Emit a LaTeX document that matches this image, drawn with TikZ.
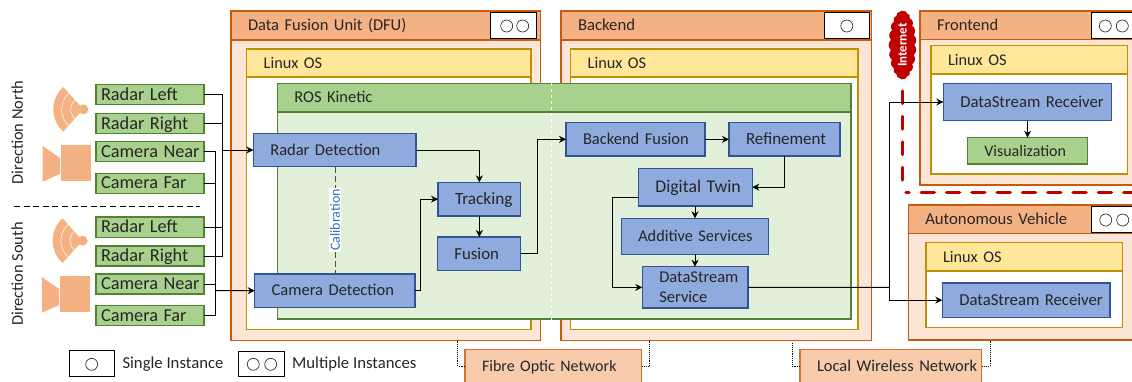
\documentclass[tikz,border=0pt]{standalone}
\usepackage{fontspec}
\setmainfont{Carlito}
\usetikzlibrary{arrows.meta, shapes.symbols}

\definecolor{headorange}{HTML}{F4B183}
\definecolor{bodyorange}{HTML}{FBE5D6}
\definecolor{lineorange}{HTML}{C55A11}
\definecolor{netorange}{HTML}{F8CBAD}
\definecolor{headyellow}{HTML}{FFE699}
\definecolor{lineyellow}{HTML}{BF9000}
\definecolor{headgreen}{HTML}{A9D18E}
\definecolor{bodygreen}{HTML}{E2F0D9}
\definecolor{linegreen}{HTML}{548235}
\definecolor{blockblue}{HTML}{8FAADC}
\definecolor{lineblue}{HTML}{2F5597}
\definecolor{darkred}{HTML}{C00000}
\definecolor{calibblue}{HTML}{2E75B6}

\tikzset{
    boxbase/.style={rectangle, draw, line width=1.3pt, outer sep=0pt, inner sep=0pt,
        align=left, font=\fontsize{16.5}{20}\selectfont, text=black!85},
    orangebody/.style={boxbase, draw=lineorange, fill=bodyorange},
    orangehead/.style={boxbase, draw=lineorange, fill=headorange},
    netbox/.style={boxbase, draw=lineorange!85, fill=netorange},
    oshead/.style={boxbase, draw=lineyellow, fill=headyellow},
    osbody/.style={boxbase, draw=lineyellow, fill=white},
    roshead/.style={boxbase, draw=linegreen, fill=headgreen},
    rosbody/.style={boxbase, draw=linegreen, fill=bodygreen},
    blockbox/.style={boxbase, draw=lineblue, fill=blockblue},
    greenbox/.style={boxbase, draw=linegreen, fill=headgreen},
    instbox/.style={boxbase, draw=black, line width=0.9pt, fill=white},
    wire/.style={black, line width=1pt},
    arrowwire/.style={wire, -{Stealth[length=7pt,width=7pt]}},
    netlink/.style={black, line width=0.9pt, densely dotted},
    instcircle/.style={black!80, line width=0.7pt},
    icon/.style={fill=headorange, draw=none},
    sidelabel/.style={rotate=90, font=\fontsize{16.4}{20}\selectfont, text=black!85},
    legendlabel/.style={anchor=west, inner sep=0pt, font=\fontsize{16.7}{20}\selectfont, text=black!85}
}

\def\boxpad{17}
\newcommand{\fs}[1]{\fontsize{#1}{20}\selectfont}
\newcommand{\boxstrut}{\hspace*{\boxpad pt}\rule[-4.7pt]{0pt}{20pt}}
% style, name, x1, y1, x2, y2, text
\newcommand{\areabox}[7]{%
    \pgfmathsetmacro\boxw{#5-#3}
    \pgfmathsetmacro\boxh{#6-#4}
    \node[#1, anchor=north west, minimum width=\boxw pt, minimum height=\boxh pt,
        text width=\boxw pt] (#2) at (#3,#4) {\boxstrut #7};
}

\begin{document}
\begin{tikzpicture}[x=1pt, y=-1pt]
    \useasboundingbox (0,0) rectangle (1132,381);
    \clip (0,0) rectangle (1132,381);

    % --- sensors ---
    \def\boxpad{5}
    \foreach \nm/\ya/\yb/\txt in {radlN/84.7/104.7/Radar Left, radrN/113.7/133.3/Radar Right,
        camnN/141.7/161.7/Camera Near, camfN/173.3/193.3/Camera Far,
        radlS/217/237.3/Radar Left, radrS/246/266/Radar Right,
        camnS/274/294/Camera Near, camfS/305.7/325.7/Camera Far} {
        \areabox{greenbox}{\nm}{96}{\ya}{204}{\yb}{\fs{18.3}\txt}
    }
    \def\boxpad{17}

    \node[sidelabel] (dirnorth) at (17.3,132.5) {Direction North};
    \node[sidelabel] (dirsouth) at (17.3,274) {Direction South};
    \draw[black, line width=0.8pt, dash pattern=on 6pt off 3.6pt] (14,206) -- (200,206);

    % radar and camera icons
    \foreach \ox/\oy in {0/0, -0.7/131.4} {
        \begin{scope}[shift={(\ox,\oy)}]
            \coordinate (apex) at (83.3,109.3);
            \fill[icon] (apex) -- ++(132:30pt) arc[start angle=132, end angle=228, radius=30pt] -- cycle;
            \draw[white, line width=0.5pt] (apex) ++(132:12.5pt) arc[start angle=132, end angle=228, radius=12.5pt];
            \draw[white, line width=0.5pt] (apex) ++(132:21.7pt) arc[start angle=132, end angle=228, radius=21.7pt];
            \fill[icon] (apex) circle[radius=5pt];
        \end{scope}
    }
    \foreach \ox/\oy in {0/0, -0.8/131} {
        \begin{scope}[shift={(\ox,\oy)}]
            \fill[icon] (60.7,145) rectangle (91,181);
            \fill[icon] (42.7,146) -- (60,158) -- (60,174) -- (42.7,181.7) -- cycle;
        \end{scope}
    }

    % --- data fusion unit ---
    \areabox{orangebody}{dfubody}{231}{11}{540.5}{340.5}{}
    \areabox{orangehead}{dfuhead}{231}{11}{540.5}{40}{Data Fusion Unit (DFU)}
    \areabox{instbox}{dfuinst}{490.7}{12.7}{536}{38.3}{}
    \areabox{osbody}{dfuosbody}{246.7}{49}{531}{329.3}{}
    \areabox{oshead}{dfuoshead}{246.7}{49}{531}{77}{\fs{16.3}Linux OS}

    % --- backend ---
    \areabox{orangebody}{backbody}{561}{11}{871.7}{340.5}{}
    \areabox{orangehead}{backhead}{561}{11}{871.7}{40}{\fs{16.7}Backend}
    \areabox{instbox}{backinst}{824.3}{12.7}{869.3}{38.3}{}
    \areabox{osbody}{backosbody}{570.7}{49}{858}{329.3}{}
    \areabox{oshead}{backoshead}{570.7}{49}{858}{77}{\fs{16.3}Linux OS}

    % --- ros ---
    \areabox{rosbody}{rosarea}{277.3}{83.3}{851}{319}{}
    \areabox{roshead}{roshd}{277.3}{83.3}{851}{112}{ROS Kinetic}
    \draw[white, line width=1pt, dashed] (551,83) -- (551,320);

    \areabox{blockbox}{radardet}{253.3}{133.3}{416}{166.7}{Radar Detection}
    \areabox{blockbox}{camdet}{254.7}{274}{415}{307.3}{Camera Detection}
    \areabox{blockbox}{tracking}{438}{182.3}{520.7}{216}{\fs{17.2}Tracking}
    \areabox{blockbox}{fusion}{437.3}{237}{520.7}{270.7}{\fs{16.8}Fusion}
    \areabox{blockbox}{backfusion}{566}{122.7}{705}{156}{Backend Fusion}
    \areabox{blockbox}{refine}{729}{122.7}{840}{156}{\fs{17}Refinement}
    \areabox{blockbox}{twin}{638.3}{168.3}{752.3}{206}{\fs{17.8}Digital Twin}
    \areabox{blockbox}{addserv}{621.3}{218.3}{768.7}{254.3}{\fs{16.3}Additive Services}
    \areabox{blockbox}{dsserv}{642.3}{266.7}{748}{308}{DataStream\\\boxstrut Service}

    % calibration link
    \node[rotate=90, fill=white, inner xsep=1pt, inner ysep=1.5pt, text=calibblue,
        font=\fontsize{14}{16}\selectfont] (calib) at (335,220) {Calibration};
    \draw[black!70, line width=0.8pt, dash pattern=on 6pt off 3pt] (radardet.south -| calib.center) -- (calib.east);
    \draw[black!70, line width=0.8pt, dash pattern=on 6pt off 3pt] (calib.west) -- (camdet.north -| calib.center);

    % --- frontend ---
    \areabox{orangebody}{frontbody}{920}{11}{1140}{185}{}
    \areabox{orangehead}{fronthead}{920}{11}{1140}{39.3}{Frontend}
    \areabox{instbox}{frontinst}{1091}{12.7}{1140}{38.3}{}
    \areabox{osbody}{frontosbody}{931}{45.7}{1127.3}{174}{}
    \areabox{oshead}{frontoshead}{931}{45.7}{1127.3}{74}{\fs{16.3}Linux OS}
    \areabox{blockbox}{recvfront}{943.3}{83.3}{1111.7}{120.7}{\fs{16.7}DataStream Receiver}
    \areabox{greenbox}{visual}{967.3}{137.7}{1087.7}{164}{\fs{16}Visualization}

    % --- autonomous vehicle ---
    \areabox{orangebody}{carbody}{908.3}{205}{1140}{340}{}
    \areabox{orangehead}{carhead}{908.3}{205}{1140}{233.7}{\fs{16.7}Autonomous Vehicle}
    \areabox{instbox}{carinst}{1091.7}{206.7}{1140}{232.3}{}
    \areabox{osbody}{carosbody}{926}{242.7}{1122.3}{327.7}{}
    \areabox{oshead}{caroshead}{926}{242.7}{1122.3}{271}{\fs{16.3}Linux OS}
    \areabox{blockbox}{recvcar}{942.3}{283}{1110}{317.3}{\fs{16.7}DataStream Receiver}

    % --- networks ---
    \areabox{netbox}{fibre}{465}{349.3}{641.7}{383}{\fs{16}Fibre Optic Network}
    \areabox{netbox}{wireless}{800}{349.3}{981.7}{383}{Local Wireless Network}
    \coordinate (fibreL) at (457.7,340.5);
    \coordinate (fibreR) at (649.7,340.5);
    \coordinate (wirelessL) at (792,343);
    \coordinate (wirelessR) at (990,340.5);
    \draw[netlink] (fibreL) |- (fibre.west);
    \draw[netlink] (fibreR) |- (fibre.east);
    \draw[netlink] (wirelessL) |- (wireless.west);
    \draw[netlink] (wirelessR) |- (wireless.east);

    % --- internet ---
    \draw[darkred, line width=3.5pt, line cap=round, dash pattern=on 12.5pt off 13pt] (902.3,91) -- (902.3,181.7);
    \draw[darkred, line width=3.5pt, line cap=round, dash pattern=on 13pt off 12.3pt, dash phase=10pt] (906,192.7) -- (1140,192.7);
    \node[cloud, cloud puffs=21, cloud puff arc=100, aspect=2.6, fill=darkred, text=white, rotate=90, inner sep=0pt,
        minimum width=69pt, minimum height=25pt, font=\fontsize{13}{14}\selectfont\bfseries] (internet) at (902.5,45) {Internet};

    % --- sensor wiring ---
    \coordinate (radarbus) at (222.7,150);
    \coordinate (cambus) at (215,290.6);
    \draw[wire] (radlN.east) -| (radarbus);
    \draw[wire] (radrN.east) -- (radrN.east -| radarbus);
    \draw[wire] (radlS.east) -- (radlS.east -| radarbus);
    \draw[wire] (radrS.east) -| (radarbus);
    \draw[wire] (camnN.east) -| (cambus);
    \draw[wire] (camfN.east) -- (camfN.east -| cambus);
    \draw[wire] (camnS.east) -- (camnS.east -| cambus);
    \draw[wire] (camfS.east) -| (cambus);
    \draw[arrowwire] (radarbus) -- (radardet.west);
    \draw[arrowwire] (cambus) -- (camdet.west);

    % --- block wiring ---
    \draw[arrowwire] (radardet.east) -| (tracking.north);
    \draw[arrowwire] (camdet.east) -- ++(5,0) |- (tracking.west);
    \draw[arrowwire] (tracking.south) -- (tracking.south |- fusion.north);
    \draw[arrowwire] (fusion.east) -- ++(16.6,0) |- (backfusion.west);
    \draw[arrowwire] (backfusion.east) -- (refine.west);
    \draw[arrowwire] (refine.south) |- (twin.east);
    \draw[arrowwire] (twin.south -| addserv.north) -- (addserv.north);
    \draw[arrowwire] (addserv.south) -- (addserv.south |- dsserv.north);
    \draw[arrowwire] ([yshift=-10pt]twin.west) -- ++(-26.3,0) |- (dsserv.west);
    \coordinate (netsplit) at (889,287.3);
    \draw[wire] (dsserv.east) -- (netsplit);
    \draw[arrowwire] (netsplit) |- (recvfront.west);
    \draw[arrowwire] (netsplit) |- (recvcar.west);
    \draw[arrowwire] (recvfront.south -| visual.north) -- (visual.north);

    % --- instance markers ---
    \foreach \cx in {506.7, 522.7} \draw[instcircle] (\cx,26) circle[radius=6pt];
    \draw[instcircle] (846.8,26) circle[radius=6pt];
    \foreach \cx in {1105.3, 1122.3} \draw[instcircle] (\cx,26) circle[radius=6pt];
    \foreach \cx in {1105.7, 1122.7} \draw[instcircle] (\cx,220) circle[radius=6pt];

    % --- legend ---
    \areabox{instbox}{singlebox}{69.3}{350.7}{114.3}{376}{}
    \areabox{instbox}{multibox}{238.7}{351}{284}{376}{}
    \draw[instcircle] (91.7,364.3) circle[radius=6pt];
    \foreach \cx in {253.3, 270.7} \draw[instcircle] (\cx,364.3) circle[radius=6pt];
    \node[legendlabel] (singlelabel) at (122.3,364) {Single Instance};
    \node[legendlabel] (multilabel) at (292,364) {Multiple Instances};
\end{tikzpicture}
\end{document}
